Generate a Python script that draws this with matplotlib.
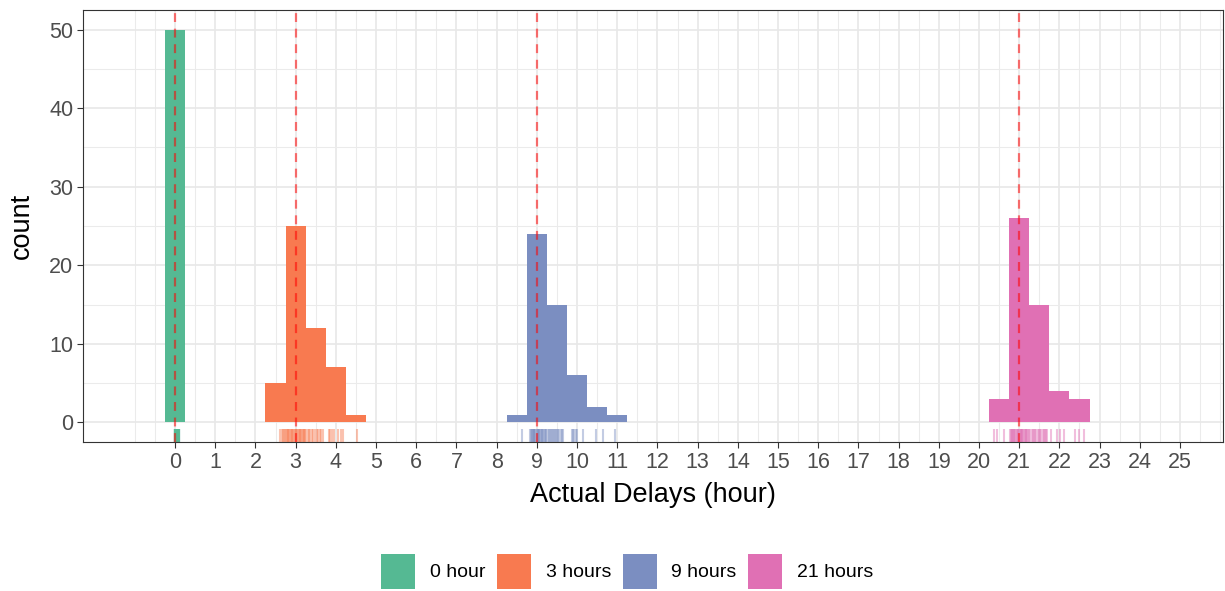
import numpy as np
import matplotlib
matplotlib.use("Agg")
import matplotlib.pyplot as plt
from matplotlib.patches import Patch

plt.rcParams["font.family"] = ["Liberation Sans", "DejaVu Sans"]

# delay groups and their nominal delay (hours)
groups = ["0 hour", "3 hours", "9 hours", "21 hours"]
nominal = [0, 3, 9, 21]
colors = ["#55B993", "#F87A50", "#7B8EC1", "#E070B4"]

delay_0 = [0.00, 0.00, 0.00, 0.00, 0.00, 0.01, 0.01, 0.01, 0.01, 0.01,
           0.02, 0.02, 0.02, 0.02, 0.02, 0.03, 0.03, 0.03, 0.03, 0.03,
           0.04, 0.04, 0.04, 0.04, 0.04, 0.05, 0.05, 0.05, 0.05, 0.05,
           0.06, 0.06, 0.06, 0.06, 0.06, 0.07, 0.07, 0.07, 0.07, 0.07,
           0.08, 0.08, 0.08, 0.08, 0.09, 0.09, 0.09, 0.10, 0.10, 0.10]
delay_3 = [2.62, 2.65, 2.68, 2.70, 2.73,
           2.76, 2.78, 2.80, 2.82, 2.84, 2.86, 2.88, 2.90, 2.92, 2.94,
           2.96, 2.98, 3.00, 3.02, 3.04, 3.06, 3.08, 3.10, 3.12, 3.14,
           3.16, 3.18, 3.20, 3.22, 3.24,
           3.27, 3.30, 3.33, 3.36, 3.40, 3.44, 3.48, 3.52, 3.56, 3.60, 3.64, 3.68,
           3.82, 3.86, 3.90, 3.96, 4.05, 4.12, 4.18,
           4.53]
delay_9 = [8.62,
           8.84, 8.86, 8.87, 8.88, 8.90, 8.92, 8.93, 8.94, 8.96, 8.98, 9.00, 9.02,
           9.04, 9.05, 9.06, 9.08, 9.10, 9.12, 9.14, 9.16, 9.18, 9.20, 9.22, 9.24,
           9.27, 9.30, 9.32, 9.35, 9.38, 9.40, 9.42, 9.45, 9.48, 9.50, 9.53, 9.56,
           9.59, 9.62, 9.64,
           9.87, 9.90, 9.93, 9.97, 10.00, 10.15,
           10.47, 10.65,
           10.95]
delay_21 = [20.37, 20.46, 20.62,
            20.78, 20.80, 20.81, 20.82, 20.84, 20.86, 20.88, 20.90, 20.92, 20.94,
            20.96, 20.98, 21.00, 21.02, 21.04, 21.05, 21.06, 21.08, 21.10, 21.12,
            21.14, 21.16, 21.18, 21.20, 21.22, 21.24,
            21.28, 21.31, 21.34, 21.37, 21.40, 21.43, 21.46, 21.49, 21.52, 21.55,
            21.58, 21.61, 21.64, 21.67, 21.70,
            21.80, 21.93, 22.02, 22.12,
            22.39, 22.48, 22.60]
delays = [delay_0, delay_3, delay_9, delay_21]

bin_edges = np.arange(-0.25, 23.0, 0.5)
x_breaks = list(range(0, 26))
y_breaks = [0, 10, 20, 30, 40, 50]

fig = plt.figure(figsize=(12.25, 5.91), dpi=100)
ax = fig.add_axes([83 / 1225, 1 - 442 / 591, (1223 - 83) / 1225, (442 - 10) / 591])

for vals, col in zip(delays, colors):
    ax.hist(vals, bins=bin_edges, color=col, zorder=2)
    ax.vlines(vals, 0, 0.03, transform=ax.get_xaxis_transform(),
              color=col, alpha=0.45, linewidth=1.5, zorder=2)

for v in nominal:
    ax.axvline(v, color="red", alpha=0.55, linewidth=1.6, linestyle=(0, (4, 3)), zorder=3)

ax.set_xlim(-2.29, 26.07)
ax.set_ylim(-2.5, 52.5)
ax.set_xticks(x_breaks)
ax.set_yticks(y_breaks)
ax.set_xticks([-1, -0.5] + [b + 0.5 for b in x_breaks] + [26], minor=True)
ax.set_yticks([5, 15, 25, 35, 45], minor=True)
ax.tick_params(which="minor", length=0)
ax.tick_params(which="major", length=4.5, width=0.8, color="#333333",
               labelsize=15.5, labelcolor="#4D4D4D", pad=2.5)
ax.grid(which="major", color="#E8E8E8", linewidth=1.2, zorder=0)
ax.grid(which="minor", color="#EBEBEB", linewidth=0.75, zorder=0)
ax.set_axisbelow(True)
for s in ax.spines.values():
    s.set_color("#333333")
    s.set_linewidth(0.8)

ax.set_xlabel("Actual Delays (hour)", fontsize=19.5, labelpad=7)
ax.set_ylabel("count", fontsize=19.5, labelpad=10)

handles = [Patch(facecolor=c, edgecolor="none", label=g) for g, c in zip(groups, colors)]
fig.legend(handles=handles, ncol=4, loc="center", bbox_to_anchor=(0.512, 0.033),
           frameon=False, fontsize=14, handlelength=1.75, handleheight=2.4,
           handletextpad=0.75, columnspacing=0.6, borderaxespad=0)

fig.savefig("out.png", dpi=100)
